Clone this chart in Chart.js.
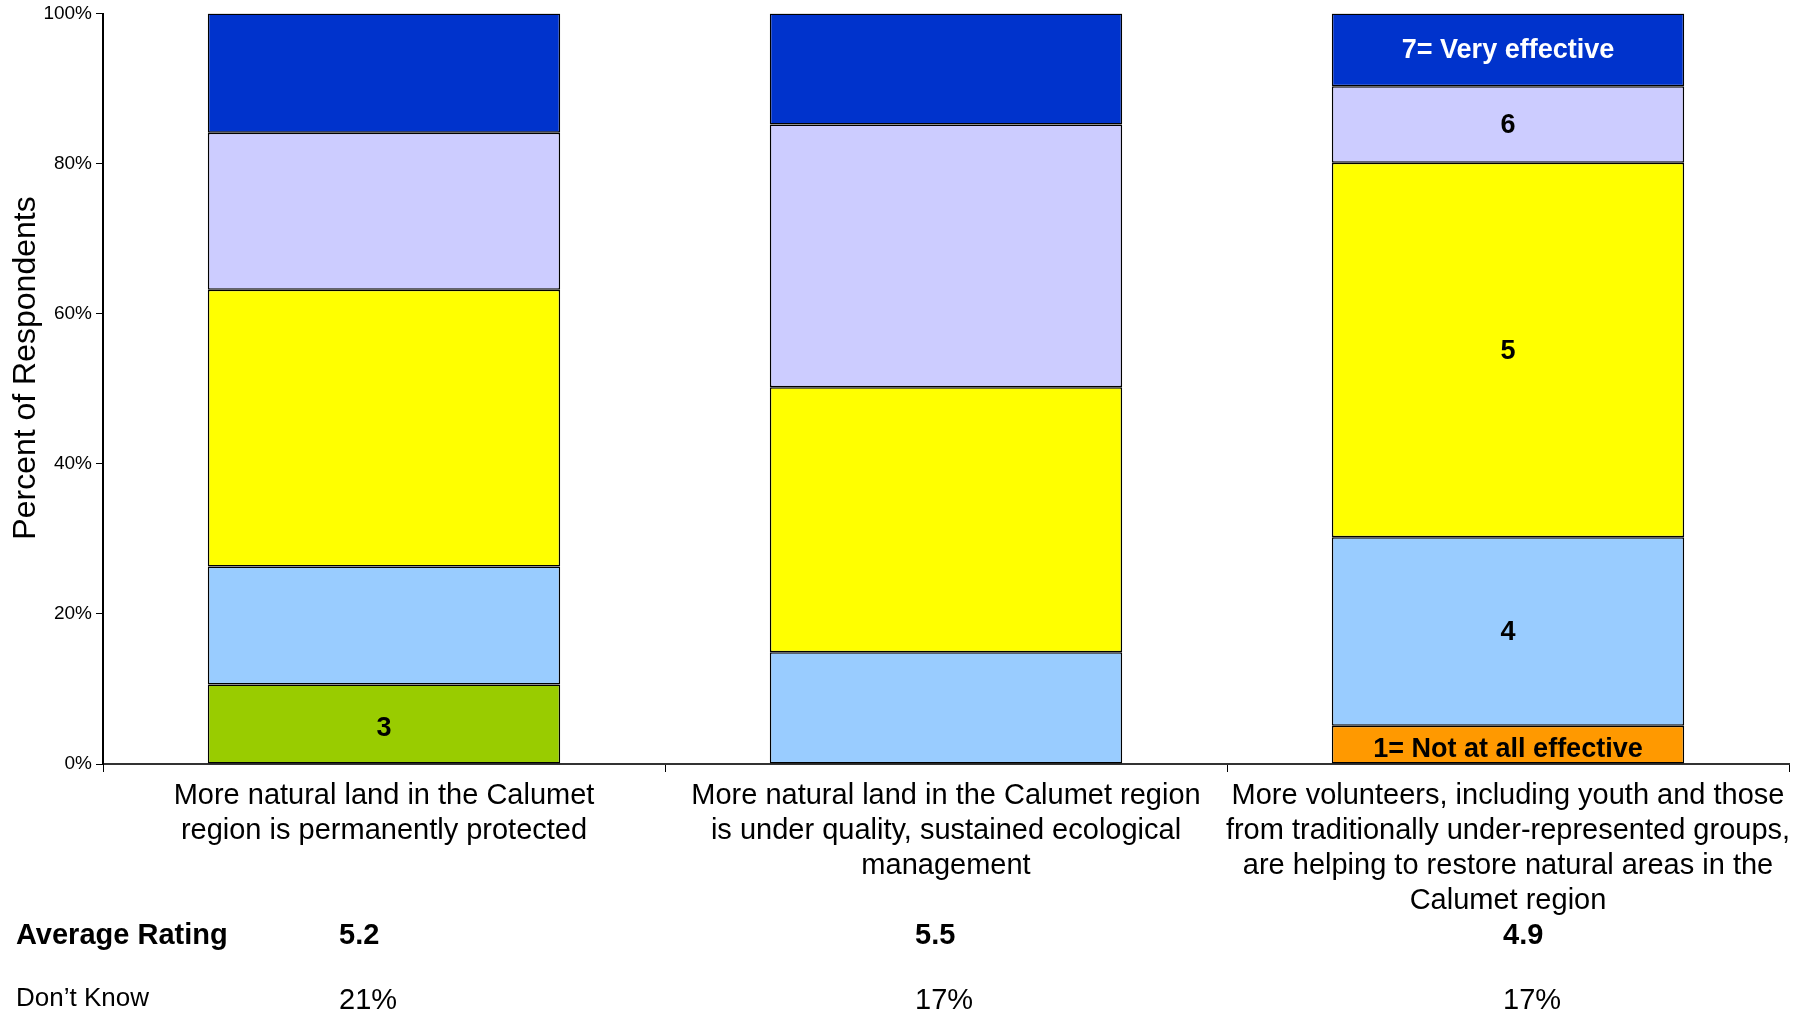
<!DOCTYPE html>
<html>
<head>
<meta charset="utf-8">
<script src="https://cdn.jsdelivr.net/npm/chart.js@4"></script>
<style>
  body { margin: 0; background: #fff; }
  canvas { display: block; }
</style>
</head>
<body>
<canvas id="ratingChart" width="1816" height="1011"></canvas>
<script>
// Chart data
const categories = [
    ['More natural land in the Calumet', 'region is permanently protected'],
    ['More natural land in the Calumet region', 'is under quality, sustained ecological', 'management'],
    ['More volunteers, including youth and those', 'from traditionally under-represented groups,', 'are helping to restore natural areas in the', 'Calumet region']
];
const seriesNames = ['1= Not at all effective', '3', '4', '5', '6', '7= Very effective'];
const rating1 = [null, null, 5.1];
const rating3 = [10.6, null, null];
const rating4 = [15.7, 14.9, 25.1];
const rating5 = [36.9, 35.3, 49.9];
const rating6 = [20.9, 35.0, 10.2];
const rating7 = [15.9, 14.8, 9.7];
const yTicks = [0, 20, 40, 60, 80, 100];
const averageRating = ['5.2', '5.5', '4.9'];
const dontKnow = ['21%', '17%', '17%'];

// which segments carry a label: [series, category]
const labelled = [[0, 2], [1, 0], [2, 2], [3, 2], [4, 2], [5, 2]];

const colors = ['#FF9900', '#99CC00', '#99CCFF', '#FFFF00', '#CCCCFF', '#0033CC'];
const labelColors = ['#000', '#000', '#000', '#000', '#000', '#fff'];
const FONT = '"Liberation Sans", Arial, sans-serif';

const seriesValues = [rating1, rating3, rating4, rating5, rating6, rating7];

const segmentLabels = {
    id: 'segmentLabels',
    afterDatasetsDraw(chart) {
        const ctx = chart.ctx;
        ctx.save();
        ctx.font = 'bold 27px ' + FONT;
        ctx.textAlign = 'center';
        ctx.textBaseline = 'middle';
        labelled.forEach(([s, c]) => {
            const bar = chart.getDatasetMeta(s).data[c];
            if (!bar) return;
            const h = Math.abs(bar.base - bar.y);
            // small bottom segments sit their text a bit low, as in the source
            const nudge = h < 90 && bar.base > chart.chartArea.bottom - 1 ? 5 : 1;
            ctx.fillStyle = labelColors[s];
            ctx.fillText(seriesNames[s], bar.x, (bar.y + bar.base) / 2 + nudge);
        });
        ctx.restore();
    }
};

// y axis title and the rows under the chart
const tableX = [339, 915, 1503];
const tableRows = {
    id: 'tableRows',
    afterDraw(chart) {
        const ctx = chart.ctx;
        ctx.save();
        ctx.fillStyle = '#000';
        ctx.translate(26, 368);
        ctx.rotate(-Math.PI / 2);
        ctx.textAlign = 'center';
        ctx.textBaseline = 'middle';
        ctx.font = '32px ' + FONT;
        ctx.fillText('Percent of Respondents', 0, 0);
        ctx.restore();

        ctx.save();
        ctx.fillStyle = '#000';
        ctx.textBaseline = 'middle';
        ctx.textAlign = 'left';
        ctx.font = 'bold 29px ' + FONT;
        ctx.fillText('Average Rating', 16, 936);
        averageRating.forEach((v, i) => ctx.fillText(v, tableX[i], 936));
        ctx.font = '26px ' + FONT;
        ctx.fillText('Don\u2019t Know', 16, 999);
        ctx.font = '29px ' + FONT;
        dontKnow.forEach((v, i) => ctx.fillText(v, tableX[i], 1001));
        ctx.restore();
    }
};

const ctx = document.getElementById('ratingChart').getContext('2d');
new Chart(ctx, {
    type: 'bar',
    data: {
        labels: categories,
        datasets: seriesNames.map((name, i) => ({
            label: name,
            data: seriesValues[i],
            backgroundColor: colors[i],
            borderColor: '#000',
            borderWidth: 1.5,
            borderSkipped: false,
            barPercentage: 1,
            categoryPercentage: 0.627
        }))
    },
    options: {
        responsive: false,
        animation: false,
        layout: { padding: { top: 13, right: 27, left: 0, bottom: 0 } },
        plugins: {
            legend: { display: false },
            tooltip: { enabled: false }
        },
        scales: {
            x: {
                stacked: true,
                ticks: {
                    color: '#000',
                    font: { size: 29, family: FONT, lineHeight: 1.2 },
                    maxRotation: 0,
                    autoSkip: false,
                    padding: 7
                },
                grid: { drawOnChartArea: false, tickLength: 8, color: '#000', offset: true },
                border: { color: '#333', width: 2 },
                afterFit(scale) { scale.height = 247; }
            },
            y: {
                stacked: true,
                min: 0,
                max: 100,
                afterBuildTicks(scale) { scale.ticks = yTicks.map(v => ({ value: v })); },
                ticks: {
                    color: '#000',
                    font: { size: 19, family: FONT, lineHeight: 1 },
                    padding: 4,
                    callback: v => v + '%'
                },
                grid: { drawOnChartArea: false, tickLength: 7, color: '#000' },
                border: { color: '#000', width: 2 },
                afterFit(scale) { scale.width = 103; }
            }
        }
    },
    plugins: [segmentLabels, tableRows]
});
</script>
</body>
</html>
